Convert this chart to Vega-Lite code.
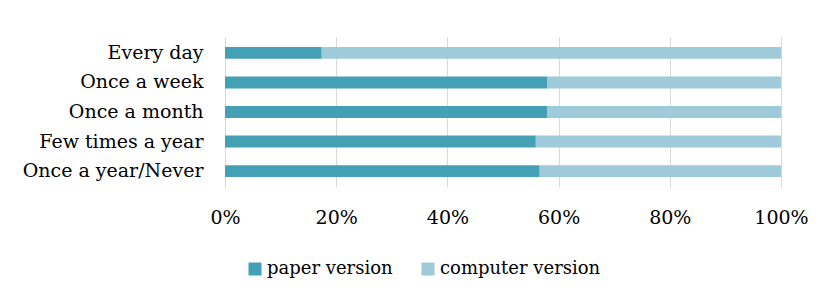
{
  "$schema": "https://vega.github.io/schema/vega-lite/v6.json",
  "width": 556,
  "height": 150,
  "autosize": "none",
  "padding": {"left": 225, "top": 37, "right": 50, "bottom": 113},
  "background": "white",
  "data": {
    "values": [
      {"frequency": "Every day", "version": "paper version", "k": 1, "share": 17.4},
      {"frequency": "Every day", "version": "computer version", "k": 2, "share": 82.6},
      {"frequency": "Once a week", "version": "paper version", "k": 1, "share": 58.0},
      {"frequency": "Once a week", "version": "computer version", "k": 2, "share": 42.0},
      {"frequency": "Once a month", "version": "paper version", "k": 1, "share": 58.0},
      {"frequency": "Once a month", "version": "computer version", "k": 2, "share": 42.0},
      {"frequency": "Few times a year", "version": "paper version", "k": 1, "share": 55.9},
      {"frequency": "Few times a year", "version": "computer version", "k": 2, "share": 44.1},
      {"frequency": "Once a year/Never", "version": "paper version", "k": 1, "share": 56.6},
      {"frequency": "Once a year/Never", "version": "computer version", "k": 2, "share": 43.4}
    ]
  },
  "mark": {"type": "bar"},
  "encoding": {
    "y": {
      "field": "frequency",
      "type": "nominal",
      "sort": ["Every day", "Once a week", "Once a month", "Few times a year", "Once a year/Never"],
      "scale": {"paddingInner": 0.6, "paddingOuter": 0.34},
      "axis": {
        "title": null,
        "domain": false,
        "ticks": false,
        "labelPadding": 22,
        "labelFont": "DejaVu Serif",
        "labelFontSize": 19,
        "labelColor": "#000000",
        "labelLimit": 300
      }
    },
    "x": {
      "field": "share",
      "type": "quantitative",
      "stack": "normalize",
      "scale": {"domain": [0, 1], "nice": false},
      "axis": {
        "title": null,
        "values": [0, 0.2, 0.4, 0.6, 0.8, 1],
        "format": ".0%",
        "domain": false,
        "ticks": false,
        "grid": true,
        "gridColor": "#d9d9d9",
        "gridWidth": 1,
        "labelPadding": 21,
        "labelFont": "DejaVu Serif",
        "labelFontSize": 19,
        "labelColor": "#000000",
        "labelFlush": false
      }
    },
    "color": {
      "field": "version",
      "type": "nominal",
      "scale": {
        "domain": ["paper version", "computer version"],
        "range": ["#44a1b5", "#9ecad9"]
      },
      "legend": {
        "title": null,
        "orient": "none",
        "direction": "horizontal",
        "legendX": 21,
        "legendY": 223,
        "symbolType": "square",
        "symbolSize": 169,
        "symbolStrokeWidth": 0,
        "symbolOpacity": 1,
        "labelFont": "DejaVu Serif",
        "labelFontSize": 18,
        "labelColor": "#000000",
        "labelOffset": 3,
        "columnPadding": 26,
        "labelLimit": 300
      }
    },
    "order": {"field": "k", "type": "quantitative"}
  },
  "config": {
    "view": {"stroke": null}
  }
}
